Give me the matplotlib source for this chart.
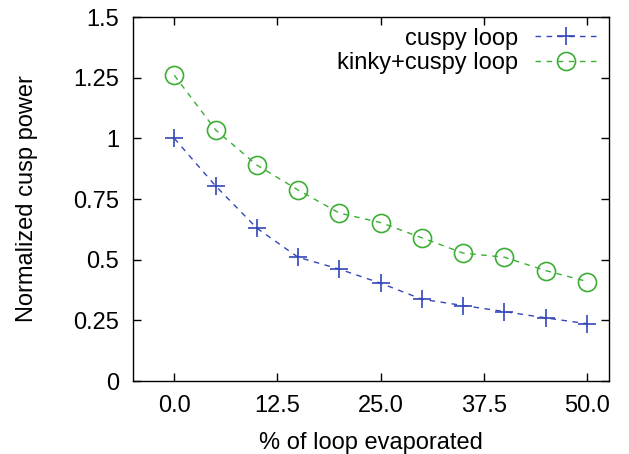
import matplotlib
matplotlib.use("Agg")
import matplotlib.pyplot as plt

x_vals = [0, 5, 10, 15, 20, 25, 30, 35, 40, 45, 50]
cuspy = [1.0, 0.804, 0.630, 0.510, 0.461, 0.403, 0.337, 0.311, 0.286, 0.260, 0.236]
kinky_cuspy = [1.26, 1.035, 0.890, 0.787, 0.692, 0.653, 0.590, 0.527, 0.510, 0.455, 0.410]
x_ticks = [0, 12.5, 25, 37.5, 50]
x_tick_labels = ["0.0", "12.5", "25.0", "37.5", "50.0"]
y_ticks = [0, 0.25, 0.5, 0.75, 1, 1.25, 1.5]
y_tick_labels = ["0", "0.25", "0.5", "0.75", "1", "1.25", "1.5"]

plt.rcParams['font.family'] = ['Liberation Sans', 'DejaVu Sans']
fs = 17

fig = plt.figure(figsize=(6.29, 4.54), dpi=100)
ax = fig.add_axes([133/629, 1 - 381/454, (609-133)/629, (381-17)/454])

blue = '#3347b8'
green = '#3cae34'
ax.plot(x_vals, cuspy, color=blue, lw=1.0, ls=(0, (4, 4)), marker='+',
        markersize=13, markeredgewidth=1.2, label='cuspy loop')
ax.plot(x_vals, kinky_cuspy, color=green, lw=1.0, ls=(0, (4, 4)), marker='o',
        markersize=13, markerfacecolor='none', markeredgewidth=1.2,
        label='kinky+cuspy loop')

ax.set_xlim(-5, 52.66)
ax.set_ylim(0, 1.5)
ax.set_xticks(x_ticks)
ax.set_xticklabels(x_tick_labels, fontsize=fs)
ax.set_yticks(y_ticks)
ax.set_yticklabels(y_tick_labels, fontsize=fs)
ax.tick_params(direction='in', length=6, width=1, top=True, right=True)
ax.tick_params(axis='x', pad=10)
ax.tick_params(axis='y', pad=10)
for s in ax.spines.values():
    s.set_linewidth(1.0)

ax.set_xlabel('% of loop evaporated', fontsize=fs, labelpad=11)
ax.set_ylabel('Normalized cusp power', fontsize=fs, labelpad=25)

leg = ax.legend(loc='upper right', frameon=False, markerfirst=False, fontsize=fs,
                handlelength=2.6, handletextpad=0.7, labelspacing=0.1,
                borderaxespad=0.3, bbox_to_anchor=(1.008, 1.016))
for t in leg.get_texts():
    t.set_ha('right')

fig.savefig('out.png', dpi=100)
